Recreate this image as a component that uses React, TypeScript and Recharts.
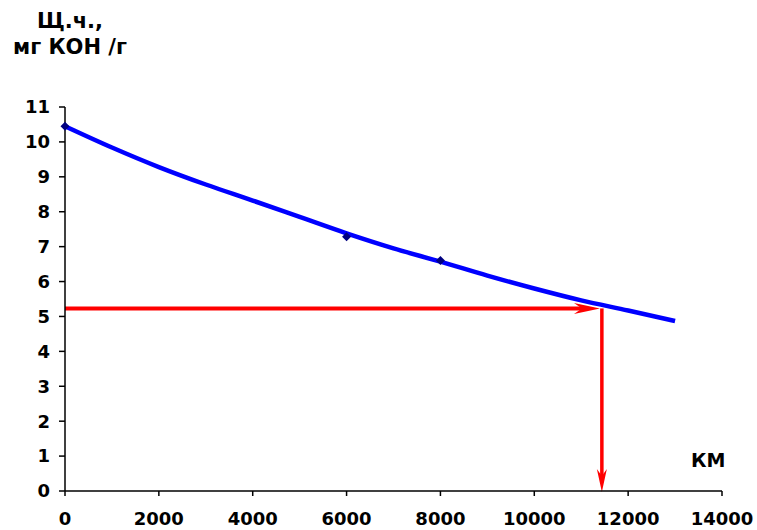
import React from "react";
import {
  ComposedChart,
  Line,
  Scatter,
  XAxis,
  YAxis,
  ReferenceLine,
} from "recharts";

// Trend line (km -> alkalinity number)
const trendKm = [0, 1000, 2000, 3000, 4000, 5000, 6000, 7000, 8000, 9000, 10000, 11000, 12000, 13000];
const trendValues = [10.45, 9.84, 9.28, 8.78, 8.32, 7.85, 7.38, 6.95, 6.57, 6.17, 5.8, 5.46, 5.17, 4.87];

// Measured points
const pointKm = [0, 6000, 8000];
const pointValues = [10.45, 7.28, 6.6];

// Read-off
const readValue = 5.23;
const readKm = 11440;
const readArrowEndKm = 11400;

const xTicks = [0, 2000, 4000, 6000, 8000, 10000, 12000, 14000];
const yTicks = [0, 1, 2, 3, 4, 5, 6, 7, 8, 9, 10, 11];

const titleLines = ["Щ.ч.,", "мг КОН /г"];
const xUnit = "КМ";

const trendData = trendKm.map((x, i) => ({ x, y: trendValues[i] }));
const pointData = pointKm.map((x, i) => ({ x, y: pointValues[i] }));

const FONT = "'DejaVu Sans', Verdana, sans-serif";
const RED = "#FF0000";

const HArrow = (props: any) => {
  const { x1, y1, x2 } = props;
  const y = y1;
  return (
    <g>
      <line x1={x1} y1={y} x2={x2 - 12} y2={y} stroke={RED} strokeWidth={4} />
      <polygon
        points={`${x2},${y} ${x2 - 26},${y - 5.5} ${x2 - 18},${y} ${x2 - 26},${y + 5.5}`}
        fill={RED}
      />
    </g>
  );
};

const VArrow = (props: any) => {
  const { x1, y1, y2 } = props;
  const top = Math.min(y1, y2);
  const bot = Math.max(y1, y2);
  return (
    <g>
      <line x1={x1} y1={top} x2={x1} y2={bot - 12} stroke={RED} strokeWidth={3.5} />
      <polygon
        points={`${x1},${bot + 1} ${x1 - 5},${bot - 22} ${x1},${bot - 15} ${x1 + 5},${bot - 22}`}
        fill={RED}
      />
    </g>
  );
};

const Diamond = (props: any) => {
  const { cx, cy } = props;
  const r = 4.5;
  return (
    <polygon
      points={`${cx},${cy - r} ${cx + r},${cy} ${cx},${cy + r} ${cx - r},${cy}`}
      fill="#000080"
    />
  );
};

export default function App() {
  return (
    <div style={{ position: "absolute", left: 0, top: 0, width: 757, height: 530, background: "#fff" }}>
      <ComposedChart
        width={757}
        height={530}
        margin={{ top: 107, right: 35, bottom: 0, left: 0 }}
      >
        <XAxis
          type="number"
          dataKey="x"
          domain={[0, 14000]}
          ticks={xTicks}
          interval={0}
          height={39}
          tickSize={5}
          tickMargin={16}
          axisLine={{ stroke: "#000", strokeWidth: 1.5 }}
          tickLine={{ stroke: "#000", strokeWidth: 1.5 }}
          tick={{ fill: "#000", fontSize: 18, fontWeight: "bold", fontFamily: FONT }}
        />
        <YAxis
          type="number"
          dataKey="y"
          domain={[0, 11]}
          ticks={yTicks}
          interval={0}
          width={65}
          tickSize={6}
          tickMargin={9}
          axisLine={{ stroke: "#000", strokeWidth: 1.5 }}
          tickLine={{ stroke: "#000", strokeWidth: 1.5 }}
          tick={{ fill: "#000", fontSize: 18, fontWeight: "bold", fontFamily: FONT }}
        />
        <ReferenceLine
          segment={[{ x: 0, y: readValue }, { x: readArrowEndKm, y: readValue }]}
          shape={HArrow}
          ifOverflow="visible"
        />
        <ReferenceLine
          segment={[{ x: readKm, y: readValue }, { x: readKm, y: 0 }]}
          shape={VArrow}
          ifOverflow="visible"
        />
        <Line
          data={trendData}
          dataKey="y"
          type="monotone"
          stroke="#0000FF"
          strokeWidth={4.5}
          dot={false}
          activeDot={false}
          isAnimationActive={false}
        />
        <Scatter
          data={pointData}
          dataKey="y"
          shape={Diamond}
          legendType="none"
          isAnimationActive={false}
        />
      </ComposedChart>
      <svg
        width={757}
        height={530}
        style={{ position: "absolute", left: 0, top: 0, pointerEvents: "none" }}
      >
        <text x={70} y={28} textAnchor="middle" fontFamily={FONT} fontWeight="bold" fontSize={21} fill="#000">
          {titleLines[0]}
        </text>
        <text x={70} y={54} textAnchor="middle" fontFamily={FONT} fontWeight="bold" fontSize={21} fill="#000">
          {titleLines[1]}
        </text>
        <text x={691} y={467} fontFamily={FONT} fontWeight="bold" fontSize={19} fill="#000">
          {xUnit}
        </text>
      </svg>
    </div>
  );
}
